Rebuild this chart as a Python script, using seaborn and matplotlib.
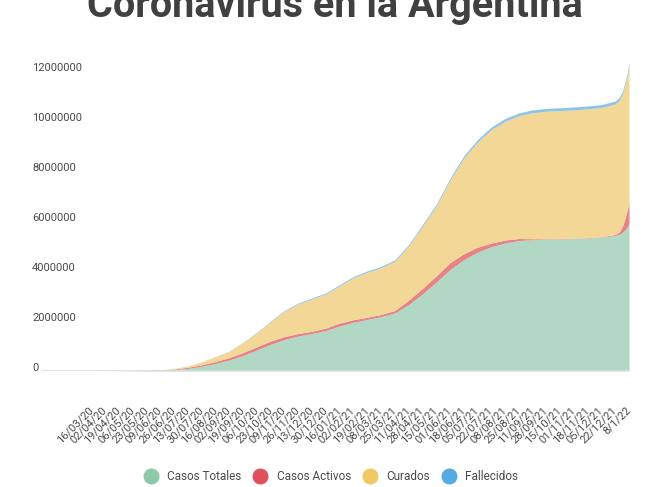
import matplotlib
matplotlib.use("Agg")
import matplotlib.pyplot as plt
import seaborn as sns
import pandas as pd
from datetime import datetime
from matplotlib.lines import Line2D

title = "Coronavirus en la Argentina"
series_names = ["Casos Totales", "Casos Activos", "Curados", "Fallecidos"]

sample_dates = [
    "16/03/20", "02/04/20", "19/04/20", "06/05/20", "23/05/20", "09/06/20",
    "26/06/20", "13/07/20", "30/07/20", "16/08/20", "02/09/20", "19/09/20",
    "06/10/20", "23/10/20", "09/11/20", "26/11/20", "13/12/20", "30/12/20",
    "16/01/21", "02/02/21", "19/02/21", "08/03/21", "25/03/21", "11/04/21",
    "28/04/21", "15/05/21", "01/06/21", "18/06/21", "05/07/21", "22/07/21",
    "08/08/21", "25/08/21", "11/09/21", "28/09/21", "15/10/21", "01/11/21",
    "18/11/21", "05/12/21", "22/12/21", "27/12/21", "31/12/21", "03/01/22",
    "06/01/22", "08/01/22",
]

casos_totales = [
    100, 1000, 3000, 5000, 11000, 25000,
    55000, 105000, 190000, 300000, 440000, 620000,
    840000, 1070000, 1260000, 1400000, 1500000, 1620000,
    1800000, 1950000, 2060000, 2170000, 2320000, 2650000,
    3080000, 3550000, 4050000, 4450000, 4750000, 4970000,
    5120000, 5220000, 5250000, 5270000, 5280000, 5300000,
    5320000, 5350000, 5420000, 5470000, 5550000, 5650000,
    5780000, 5900000,
]

casos_activos = [
    100, 800, 2000, 3000, 6000, 13000,
    25000, 45000, 60000, 80000, 100000, 120000,
    130000, 130000, 120000, 100000, 90000, 100000,
    120000, 100000, 90000, 90000, 100000, 180000,
    220000, 250000, 280000, 240000, 200000, 150000,
    120000, 80000, 40000, 20000, 15000, 15000,
    15000, 20000, 40000, 90000, 250000, 450000,
    670000, 820000,
]

curados = [
    0, 200, 900, 1700, 3500, 7600,
    25000, 50000, 115000, 195000, 250000, 400000,
    560000, 770000, 1010000, 1180000, 1290000, 1360000,
    1490000, 1680000, 1800000, 1870000, 1970000, 2160000,
    2490000, 2780000, 3290000, 3820000, 4200000, 4530000,
    4750000, 4910000, 5040000, 5100000, 5120000, 5130000,
    5150000, 5170000, 5220000, 5270000, 5280000, 5330000,
    5380000, 5510000,
]

fallecidos = [
    0, 40, 100, 300, 500, 700,
    1200, 2000, 3500, 6000, 9000, 13000,
    22000, 28000, 34000, 38000, 41000, 43000,
    45000, 48000, 51000, 53000, 55000, 58000,
    64000, 71000, 80000, 89000, 98000, 105000,
    109000, 112000, 114000, 115000, 115800, 116300,
    116800, 117200, 117400, 117600, 117800, 118000,
    118300, 118500,
]

tick_labels = [
    "16/03/20", "02/04/20", "19/04/20", "06/05/20", "23/05/20", "09/06/20",
    "26/06/20", "13/07/20", "30/07/20", "16/08/20", "02/09/20", "19/09/20",
    "06/10/20", "23/10/20", "09/11/20", "26/11/20", "13/12/20", "30/12/20",
    "16/01/21", "02/02/21", "19/02/21", "08/03/21", "25/03/21", "11/04/21",
    "28/04/21", "15/05/21", "01/06/21", "18/06/21", "05/07/21", "22/07/21",
    "08/08/21", "25/08/21", "11/09/21", "28/09/21", "15/10/21", "01/11/21",
    "18/11/21", "05/12/21", "22/12/21", "8/1/22",
]

y_ticks = [0, 2000000, 4000000, 6000000, 8000000, 10000000, 12000000]

area_colors = ["#b1d8c5", "#e68385", "#f3d797", "#8ec5e6"]
legend_colors = ["#8cc9a6", "#e0505a", "#f0c965", "#55ace2"]

def parse(s):
    return datetime.strptime(s, "%d/%m/%y")

df = pd.DataFrame({
    "fecha": [parse(s) for s in sample_dates],
    series_names[0]: casos_totales,
    series_names[1]: casos_activos,
    series_names[2]: curados,
    series_names[3]: fallecidos,
})
tick_dt = [parse(s) for s in tick_labels]

sns.set_theme(style="white")
plt.rcParams["font.family"] = ["Roboto", "DejaVu Sans"]

W, H = 650, 487
fig = plt.figure(figsize=(W / 100, H / 100), dpi=100)
ax_left, ax_right, ax_bottom, ax_top = 42, 629, 371, 58.5
ax = fig.add_axes([ax_left / W, (H - ax_bottom) / H,
                   (ax_right - ax_left) / W, (ax_bottom - ax_top) / H])

ax.stackplot(df["fecha"], [df[n] for n in series_names],
             colors=area_colors, linewidth=0, zorder=2)
ax.axhline(0, color="#dcdcdc", lw=1.2, zorder=3)

ax.set_xlim(datetime(2020, 1, 15), datetime(2022, 1, 8))
ax.set_ylim(0, 12500000)
for s in ax.spines.values():
    s.set_visible(False)
ax.grid(False)

ax.set_yticks(y_ticks)
ax.set_yticklabels([str(v) for v in y_ticks], fontsize=8, color="#4a4a4a")
for lab in ax.get_yticklabels():
    lab.set_horizontalalignment("left")
    lab.set_verticalalignment("baseline")
ax.tick_params(axis="y", length=0, pad=7.2)

ax.set_xticks(tick_dt)
ax.set_xticklabels(tick_labels, rotation=45, ha="right", va="center",
                   rotation_mode="anchor", fontsize=8, color="#4a4a4a")
ax.tick_params(axis="x", length=0, pad=27)
ax.set_xlabel("")
ax.set_ylabel("")

fig.text(335 / W, 1 - 17 / H, title, ha="center", va="baseline",
         fontsize=28.5, fontweight="bold", color="#404040")

handles = [Line2D([], [], marker="o", linestyle="", markersize=10.5,
                  markerfacecolor=c, markeredgecolor=c) for c in legend_colors]
fig.legend(handles, series_names, loc="center",
           bbox_to_anchor=(331 / W, 10 / H), ncol=4, frameon=False,
           fontsize=8.5, handlelength=1.2, handletextpad=0.8,
           columnspacing=1.0, labelcolor="#4a4a4a")

fig.savefig("out.png", dpi=100)
